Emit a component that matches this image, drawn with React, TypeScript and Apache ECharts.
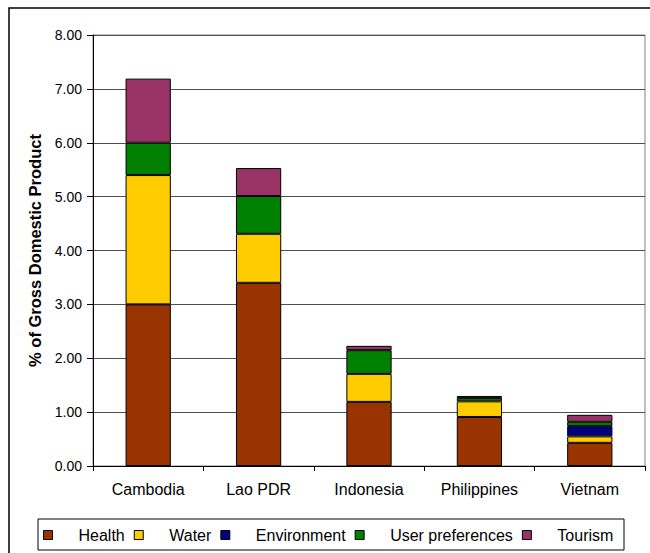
import React, { useEffect, useRef } from "react";
import * as echarts from "echarts";

const categories = ["Cambodia", "Lao PDR", "Indonesia", "Philippines", "Vietnam"];
const health = [3.0, 3.4, 1.19, 0.91, 0.43];
const water = [2.4, 0.91, 0.52, 0.29, 0.12];
const environment = [0, 0, 0, 0, 0.19];
const userPreferences = [0.6, 0.7, 0.44, 0.06, 0.08];
const tourism = [1.19, 0.52, 0.08, 0.04, 0.13];

const seriesDefs = [
  { name: "Health", values: health, color: "#993300" },
  { name: "Water", values: water, color: "#FFCC00" },
  { name: "Environment", values: environment, color: "#000080" },
  { name: "User preferences", values: userPreferences, color: "#008000" },
  { name: "Tourism", values: tourism, color: "#993366" },
];

const FONT = "'Liberation Sans', Arial, sans-serif";

export default function App() {
  const ref = useRef<HTMLDivElement>(null);
  useEffect(() => {
    if (!ref.current) return;
    const chart = echarts.init(ref.current, null, { renderer: "svg" });
    chart.setOption({
      animation: false,
      backgroundColor: "#ffffff",
      textStyle: { fontFamily: FONT },
      graphic: [
        {
          type: "rect",
          shape: { x: 9, y: 8, width: 700, height: 700 },
          style: { fill: "none", stroke: "#000", lineWidth: 1.5 },
          silent: true,
          z: 100,
        },
        {
          type: "rect",
          shape: { x: 38, y: 519, width: 586, height: 31 },
          style: { fill: "#fff", stroke: "#000", lineWidth: 1 },
          silent: true,
          z: 1,
        },
      ],
      grid: {
        left: 93,
        top: 35,
        right: 5,
        bottom: 87,
        show: true,
        borderColor: "#808080",
        borderWidth: 1,
        backgroundColor: "transparent",
      },
      legend: {
        left: 43,
        top: 527,
        padding: 0,
        itemGap: 9,
        itemWidth: 9,
        itemHeight: 9,
        icon: "rect",
        z: 10,
        itemStyle: { borderColor: "#000", borderWidth: 1 },
        textStyle: {
          fontFamily: FONT,
          fontSize: 16,
          color: "#000",
          padding: [0, 0, 0, 21],
        },
        data: seriesDefs.map((s) => s.name),
      },
      xAxis: {
        type: "category",
        data: categories,
        axisLine: { lineStyle: { color: "#000", width: 1 } },
        axisTick: { show: true, length: 5, lineStyle: { color: "#000" } },
        axisLabel: { fontFamily: FONT, fontSize: 16, color: "#000", margin: 15 },
      },
      yAxis: {
        type: "value",
        min: 0,
        max: 8,
        interval: 1,
        name: "% of Gross Domestic Product",
        nameLocation: "middle",
        nameGap: 46,
        nameTextStyle: { fontFamily: FONT, fontSize: 16.5, fontWeight: "bold", color: "#000" },
        axisLine: { show: true, lineStyle: { color: "#000", width: 1 } },
        axisTick: { show: true, length: 6, lineStyle: { color: "#000" } },
        axisLabel: {
          fontFamily: FONT,
          fontSize: 14,
          color: "#000",
          margin: 11,
          formatter: (v: number) => v.toFixed(2),
        },
        splitLine: { show: true, lineStyle: { color: "#505050", width: 1.2 } },
      },
      series: seriesDefs.map((s) => ({
        name: s.name,
        type: "bar",
        stack: "total",
        barWidth: "41%",
        data: s.values.map((v) => (v === 0 ? null : v)),
        itemStyle: { color: s.color, borderColor: "#000", borderWidth: 1 },
      })),
    });
    return () => chart.dispose();
  }, []);
  return (
    <div
      ref={ref}
      style={{ position: "absolute", left: 0, top: 0, width: 650, height: 553 }}
    />
  );
}
